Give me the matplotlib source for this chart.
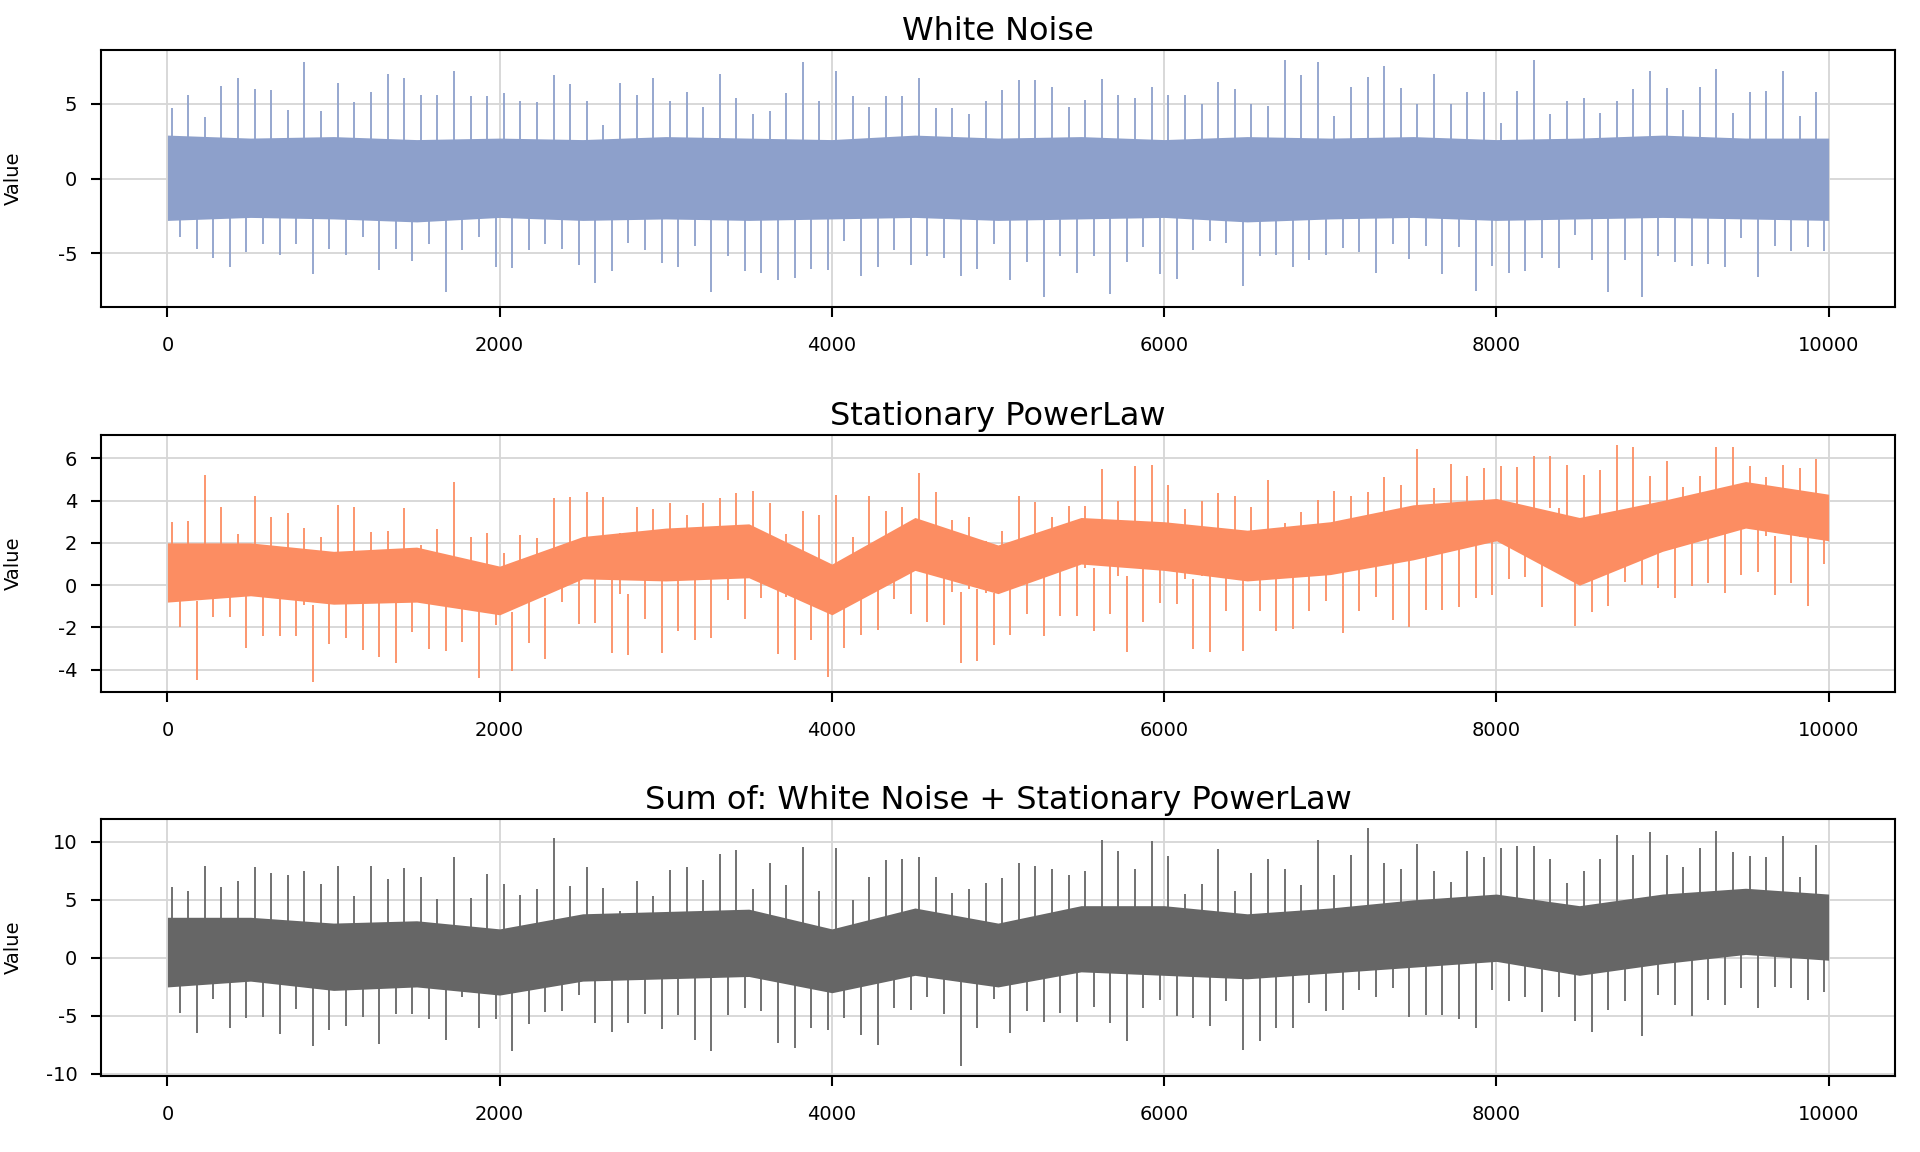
import numpy as np
import matplotlib
matplotlib.use("Agg")
import matplotlib.pyplot as plt

# ---------------- data ----------------
# time index is binned in 100-step bins; for every bin the highest and the
# lowest excursion of the series was read off the picture
bin_start = np.arange(0, 10000, 100)
# dense "core" band of each series, read every 500 steps
core_x = np.arange(0, 10001, 500)

wn_max = [4.7, 5.6, 4.1, 6.2, 6.7, 6.0, 5.9, 4.6, 7.8, 4.5,
          6.35, 5.1, 5.8, 7.0, 6.7, 5.6, 5.6, 7.2, 5.5, 5.5,
          5.7, 5.2, 5.1, 6.9, 6.3, 5.2, 3.6, 6.4, 5.6, 6.7,
          5.2, 5.8, 4.75, 7.0, 5.35, 4.3, 4.5, 5.7, 7.8, 5.15,
          7.15, 5.5, 4.75, 5.5, 5.5, 6.7, 4.7, 4.7, 4.3, 5.2,
          5.9, 6.6, 6.6, 6.1, 4.8, 5.25, 6.65, 5.6, 5.35, 6.1,
          5.6, 5.6, 5.0, 6.45, 5.95, 5.0, 4.85, 7.93, 6.9, 7.8,
          4.2, 6.1, 6.75, 7.5, 6.05, 5.0, 7.0, 5.0, 5.75, 5.75,
          3.7, 5.85, 7.95, 4.3, 5.15, 5.35, 4.4, 5.15, 6.0, 7.2,
          6.05, 4.6, 6.1, 7.3, 4.4, 5.8, 5.85, 7.2, 4.2, 5.75]
wn_min = [-3.9, -4.7, -5.3, -5.9, -4.9, -4.4, -5.1, -4.4, -6.4, -4.7,
          -5.1, -3.9, -6.1, -4.7, -5.5, -4.4, -7.55, -4.8, -3.9, -5.9,
          -5.95, -4.8, -4.4, -4.7, -5.8, -6.95, -6.2, -4.3, -4.8, -5.65,
          -5.9, -4.5, -7.55, -5.2, -6.2, -6.3, -6.75, -6.65, -6.05, -6.1,
          -4.15, -6.5, -5.9, -4.8, -5.75, -5.2, -5.3, -6.5, -6.05, -4.4,
          -6.8, -5.55, -7.9, -5.2, -6.3, -5.2, -7.7, -5.6, -4.6, -6.4,
          -6.7, -4.8, -4.2, -4.3, -7.15, -5.2, -5.1, -5.9, -5.45, -5.1,
          -4.65, -4.9, -6.3, -4.4, -5.4, -4.5, -6.35, -4.6, -7.5, -5.85,
          -6.3, -6.2, -5.3, -6.0, -3.8, -5.45, -7.6, -5.45, -7.95, -5.2,
          -5.6, -5.85, -5.7, -5.9, -3.95, -6.6, -4.5, -4.85, -4.6, -4.85]
wn_core_hi = [2.9, 2.7, 2.8, 2.6, 2.7, 2.6, 2.8, 2.7, 2.6, 2.9, 2.7,
              2.8, 2.6, 2.8, 2.7, 2.8, 2.6, 2.7, 2.9, 2.7, 2.7]
wn_core_lo = [-2.8, -2.6, -2.7, -2.9, -2.6, -2.8, -2.7, -2.8, -2.7, -2.6, -2.8,
              -2.7, -2.6, -2.9, -2.7, -2.6, -2.8, -2.7, -2.6, -2.7, -2.8]

pl_max = [3.0, 3.05, 5.2, 3.7, 2.4, 4.2, 3.2, 3.4, 2.7, 2.3,
          3.8, 3.7, 2.5, 2.55, 3.65, 1.9, 2.65, 4.9, 2.3, 2.45,
          1.5, 2.35, 2.25, 4.1, 4.15, 4.4, 4.15, 2.45, 3.7, 3.6,
          3.9, 3.3, 3.9, 4.1, 4.35, 4.45, 3.9, 2.4, 3.5, 3.3,
          4.25, 2.3, 4.2, 3.5, 3.7, 5.3, 4.4, 3.1, 3.2, 2.1,
          2.55, 4.2, 3.95, 3.2, 3.75, 3.75, 5.5, 4.0, 5.65, 5.7,
          4.75, 3.6, 4.0, 4.35, 4.2, 3.7, 4.95, 2.95, 3.45, 4.05,
          4.45, 4.2, 4.4, 5.1, 4.75, 6.45, 4.6, 5.75, 5.15, 5.55,
          5.65, 5.6, 6.1, 6.1, 5.7, 5.2, 5.45, 6.65, 6.55, 5.15,
          5.85, 4.65, 5.15, 6.55, 6.55, 5.65, 5.1, 5.7, 5.55, 5.95]
pl_min = [-2.0, -4.5, -1.5, -1.5, -2.95, -2.4, -2.4, -2.4, -4.6, -2.8,
          -2.5, -3.05, -3.4, -3.7, -2.2, -3.0, -3.1, -2.7, -4.4, -1.9,
          -4.05, -2.75, -3.5, -0.8, -1.85, -1.8, -3.2, -3.3, -1.6, -3.2,
          -2.15, -2.6, -2.5, -0.7, -1.6, -0.6, -3.25, -3.55, -2.6, -4.35,
          -2.95, -2.35, -2.1, -0.65, -1.35, -1.75, -1.9, -3.7, -3.6, -2.85,
          -2.35, -1.35, -2.4, -1.45, -1.45, -2.15, -1.35, -3.15, -1.75, -0.85,
          -0.9, -3.0, -3.15, -1.2, -3.1, -1.2, -2.15, -2.05, -1.2, -0.75,
          -2.25, -1.2, -0.55, -1.65, -2.0, -1.15, -1.15, -1.05, -0.6, -0.45,
          0.3, 0.4, -1.05, 1.2, -1.95, -1.25, -1.0, 0.15, 0.0, -0.15,
          -0.6, -0.05, 0.1, -0.35, 0.5, 0.6, -0.45, 0.1, -1.0, 1.0]
pl_core_hi = [2.0, 2.0, 1.6, 1.8, 0.9, 2.3, 2.7, 2.9, 1.0, 3.2, 1.9,
              3.2, 3.0, 2.6, 3.0, 3.8, 4.1, 3.2, 4.0, 4.9, 4.3]
pl_core_lo = [-0.8, -0.5, -0.9, -0.8, -1.4, 0.3, 0.2, 0.35, -1.4, 0.7, -0.4,
              1.0, 0.7, 0.2, 0.5, 1.2, 2.1, 0.0, 1.6, 2.7, 2.1]

sum_max = [6.15, 5.8, 7.9, 6.1, 6.65, 7.8, 7.3, 7.15, 7.45, 6.35,
           7.95, 5.3, 7.9, 6.8, 7.75, 6.95, 5.1, 8.65, 5.2, 7.2,
           6.35, 5.45, 5.9, 10.3, 6.2, 7.85, 6.0, 4.0, 6.6, 5.35,
           7.55, 7.8, 6.7, 8.95, 9.3, 5.9, 8.15, 6.25, 9.55, 5.8,
           9.5, 5.0, 7.0, 8.45, 8.55, 8.65, 7.0, 5.6, 5.9, 6.45,
           6.9, 8.15, 7.95, 7.65, 7.15, 7.5, 10.2, 9.25, 7.65, 10.1,
           8.8, 5.5, 6.35, 9.35, 5.8, 7.3, 8.55, 7.65, 6.3, 10.15,
           7.1, 8.85, 11.15, 8.15, 7.65, 9.85, 7.45, 6.5, 9.2, 8.65,
           9.5, 9.6, 9.65, 8.55, 6.45, 7.45, 8.55, 10.6, 8.9, 10.85,
           8.9, 7.85, 9.45, 10.95, 9.1, 8.75, 8.65, 10.5, 6.95, 9.75]
sum_min = [-4.75, -6.5, -3.5, -6.0, -5.2, -5.1, -6.55, -4.4, -7.55, -6.2,
           -5.85, -5.05, -7.45, -4.85, -4.85, -5.25, -7.05, -3.4, -6.0, -5.25,
           -8.0, -5.7, -4.7, -4.6, -3.2, -5.6, -6.35, -5.6, -4.8, -6.15,
           -4.9, -7.05, -8.0, -4.9, -4.35, -4.6, -7.35, -7.75, -6.05, -6.2,
           -5.2, -6.65, -7.5, -4.35, -4.5, -3.35, -4.85, -9.35, -6.05, -3.5,
           -6.5, -4.6, -5.55, -4.75, -5.5, -4.2, -5.6, -7.15, -4.35, -3.6,
           -5.0, -5.2, -5.85, -3.75, -7.9, -7.2, -6.05, -6.05, -3.9, -4.55,
           -4.5, -2.8, -3.35, -2.6, -5.05, -4.9, -4.9, -5.25, -6.05, -2.8,
           -3.75, -3.4, -4.7, -3.4, -5.4, -6.4, -4.5, -3.75, -6.7, -3.2,
           -4.05, -5.0, -3.65, -4.05, -2.6, -4.3, -2.5, -2.6, -3.65, -2.9]
sum_core_hi = [3.5, 3.5, 3.0, 3.2, 2.5, 3.8, 4.0, 4.2, 2.5, 4.3, 3.0,
               4.5, 4.5, 3.8, 4.3, 5.0, 5.5, 4.5, 5.5, 6.0, 5.5]
sum_core_lo = [-2.5, -2.0, -2.8, -2.5, -3.2, -2.0, -1.8, -1.6, -3.0, -1.5, -2.5,
               -1.2, -1.5, -1.8, -1.3, -0.8, -0.3, -1.5, -0.5, 0.3, -0.2]

titles = ["White Noise", "Stationary PowerLaw",
          "Sum of: White Noise + Stationary PowerLaw"]
colors = ["#8DA0CB", "#FC8D62", "#666666"]
x_ticks = [0, 2000, 4000, 6000, 8000, 10000]
y_ticks = [[-5, 0, 5], [-4, -2, 0, 2, 4, 6], [-10, -5, 0, 5, 10]]

series = [(wn_max, wn_min, wn_core_hi, wn_core_lo),
          (pl_max, pl_min, pl_core_hi, pl_core_lo),
          (sum_max, sum_min, sum_core_hi, sum_core_lo)]

# ---------------- drawing ----------------
plt.rcParams['axes.unicode_minus'] = False
plt.rcParams['font.family'] = ['DejaVu Sans']

fig = plt.figure(figsize=(19.2, 11.52), dpi=100)
bottoms = [0.7335, 0.3993, 0.066]
left, width, height = 0.0526, 0.9344, 0.2231

for i in range(3):
    ax = fig.add_axes([left, bottoms[i], width, height])
    smax, smin, chi, clo = (np.asarray(a, dtype=float) for a in series[i])
    c = colors[i]

    mid = (smax + smin) / 2.0
    ax.fill_between(core_x, clo, chi, color=c, lw=0, zorder=2)
    # the bin's upward excursion and downward excursion happen at different times
    ax.vlines(bin_start + 25, mid, smax, color=c, lw=1.3, zorder=3)
    ax.vlines(bin_start + 75, smin, mid, color=c, lw=1.3, zorder=3)

    lo, hi = min(smin.min(), clo.min()), max(smax.max(), chi.max())
    r = hi - lo
    ax.set_ylim(lo - 0.04 * r, hi + 0.04 * r)
    ax.set_xlim(-400, 10400)

    ax.set_xticks(x_ticks)
    ax.set_xticklabels([str(t) for t in x_ticks])
    ax.set_yticks(y_ticks[i])
    ax.set_yticklabels([str(t) for t in y_ticks[i]])

    ax.grid(True, color="#d6d6d6", lw=1.3, zorder=0)
    ax.set_axisbelow(True)
    for s in ax.spines.values():
        s.set_linewidth(1.5)
        s.set_color("black")
    ax.tick_params(axis='x', direction='out', length=7, width=1.5,
                   labelsize=14, pad=14)
    ax.tick_params(axis='y', direction='out', length=7, width=1.5,
                   labelsize=14, pad=10)

    ax.set_title(titles[i], fontsize=23, pad=7)
    ax.set_ylabel("Value", fontsize=14)
    ax.yaxis.label.set_verticalalignment('center')
    ax.yaxis.set_label_coords(-0.049, 0.5)

fig.savefig("out.png", dpi=100)
